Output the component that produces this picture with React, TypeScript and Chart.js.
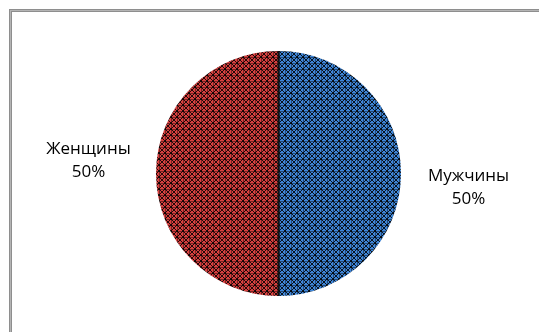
import React, { useEffect, useRef } from "react";
import { Chart, registerables } from "chart.js";

Chart.register(...registerables);

const categories = ["Мужчины", "Женщины"];
const values = [50, 50];
const percentLabels = ["50%", "50%"];
const baseColors = ["#3f86d8", "#d8403f"];

function makePattern(color: string): CanvasPattern | string {
  const c = document.createElement("canvas");
  c.width = 6;
  c.height = 6;
  const ctx = c.getContext("2d");
  if (!ctx) return color;
  ctx.fillStyle = color;
  ctx.fillRect(0, 0, 6, 6);
  ctx.fillStyle = "rgba(0,0,0,0.85)";
  for (let i = 0; i < 6; i++) {
    ctx.fillRect(i, i, 1, 1);
    ctx.fillRect(5 - i, i, 1, 1);
  }
  ctx.fillStyle = "rgba(0,0,0,0.45)";
  ctx.fillRect(0, 3, 6, 1);
  ctx.fillRect(3, 0, 1, 6);
  const p = ctx.createPattern(c, "repeat");
  return p || color;
}

const framePlugin = {
  id: "frame",
  beforeDraw(chart: any) {
    const ctx = chart.ctx;
    ctx.save();
    ctx.fillStyle = "#ffffff";
    ctx.fillRect(0, 0, chart.width, chart.height);
    ctx.fillStyle = "#8e8e8e";
    ctx.fillRect(9, 9, chart.width - 9, 3);
    ctx.fillRect(9, 9, 3, chart.height - 9);
    ctx.fillStyle = "#b4b4b4";
    ctx.fillRect(10, 10, chart.width - 10, 1);
    ctx.fillRect(10, 10, 1, chart.height - 10);
    ctx.restore();
  },
};

const labelPlugin = {
  id: "pieLabels",
  afterDatasetsDraw(chart: any) {
    const ctx = chart.ctx;
    const meta = chart.getDatasetMeta(0);
    ctx.save();
    ctx.strokeStyle = "#111111";
    ctx.lineWidth = 2;
    meta.data.forEach((arc: any) => {
      const { x, y, startAngle, outerRadius } = arc.getProps(["x", "y", "startAngle", "outerRadius"], true);
      ctx.beginPath();
      ctx.moveTo(x, y);
      ctx.lineTo(x + Math.cos(startAngle) * outerRadius, y + Math.sin(startAngle) * outerRadius);
      ctx.stroke();
    });
    ctx.fillStyle = "#000000";
    ctx.font = "17px 'Open Sans'";
    ctx.textAlign = "center";
    ctx.textBaseline = "middle";
    meta.data.forEach((arc: any, i: number) => {
      const { x, y, startAngle, endAngle, outerRadius } = arc.getProps(
        ["x", "y", "startAngle", "endAngle", "outerRadius"],
        true
      );
      const mid = (startAngle + endAngle) / 2 + 0.072;
      const d = outerRadius + 68;
      const lx = x + Math.cos(mid) * d;
      const ly = y + Math.sin(mid) * d;
      ctx.fillText(categories[i], lx, ly - 11);
      ctx.fillText(percentLabels[i], lx, ly + 12);
    });
    ctx.restore();
  },
};

export default function App() {
  const ref = useRef<HTMLCanvasElement | null>(null);
  useEffect(() => {
    if (!ref.current) return;
    const chart = new Chart(ref.current, {
      type: "pie",
      data: {
        labels: categories,
        datasets: [
          {
            data: values,
            backgroundColor: baseColors.map((c) => makePattern(c)) as any,
            borderWidth: 0,
          },
        ],
      },
      options: {
        responsive: false,
        animation: false,
        layout: { padding: { left: 128, right: 110, top: 51, bottom: 36 } },
        plugins: {
          legend: { display: false },
          tooltip: { enabled: false },
        },
      },
      plugins: [framePlugin, labelPlugin],
    });
    return () => chart.destroy();
  }, []);
  return (
    <div style={{ position: "fixed", left: 0, top: 0, width: 539, height: 332 }}>
      <canvas ref={ref} width={539} height={332} style={{ display: "block" }} />
    </div>
  );
}
